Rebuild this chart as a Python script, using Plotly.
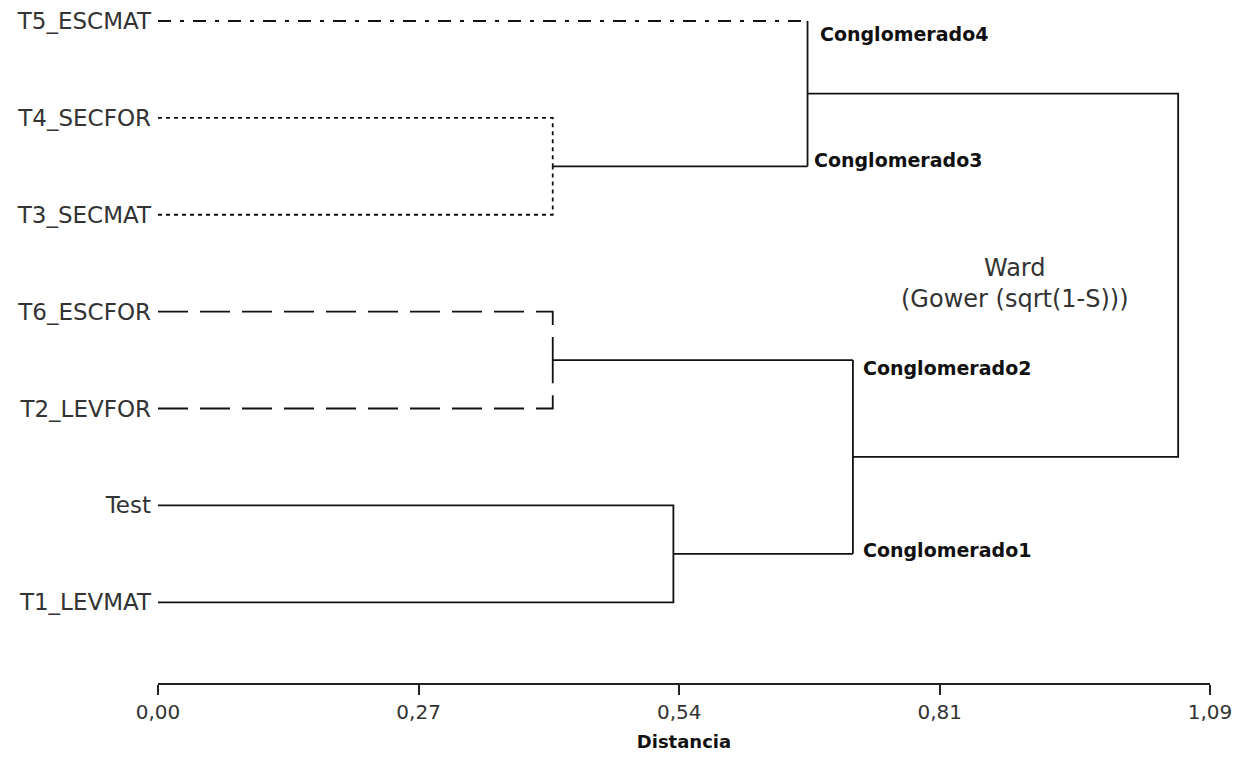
import plotly.graph_objects as go

# ---- data ----
leaves = ["T5_ESCMAT", "T4_SECFOR", "T3_SECMAT", "T6_ESCFOR", "T2_LEVFOR", "Test", "T1_LEVMAT"]
leaf_y = [7, 6, 5, 4, 3, 2, 1]
# merge heights (distance)
h_t4t3 = 0.409
h_t6t2 = 0.409
h_test_t1 = 0.534
h_c34 = 0.673
h_c12 = 0.720
h_root = 1.057
tick_vals = [0.0, 0.27, 0.54, 0.81, 1.09]
tick_text = ["0,00", "0,27", "0,54", "0,81", "1,09"]
cluster_names = ["Conglomerado4", "Conglomerado3", "Conglomerado2", "Conglomerado1"]

FONT = "DejaVu Sans"
LW = 1.8
fig = go.Figure()

def seg(xs, ys, dash="solid"):
    fig.add_trace(go.Scatter(x=xs, y=ys, mode="lines",
                             line=dict(color="#111111", width=LW, dash=dash),
                             hoverinfo="skip", showlegend=False))

y = dict(zip(leaves, leaf_y))
dot = "4px,4px"
ld = "30px,12px"
dd = "13px,9px,4px,9px"

# cluster T4/T3 (dotted), each leaf path: leaf -> height -> midpoint
m43 = (y["T4_SECFOR"] + y["T3_SECMAT"]) / 2
seg([0, h_t4t3, h_t4t3], [y["T4_SECFOR"], y["T4_SECFOR"], m43], dot)
seg([0, h_t4t3, h_t4t3], [y["T3_SECMAT"], y["T3_SECMAT"], m43], dot)
# T5 leaf (dash-dot)
seg([0, h_c34], [y["T5_ESCMAT"], y["T5_ESCMAT"]], dd)
# cluster T6/T2 (long dash)
m62 = (y["T6_ESCFOR"] + y["T2_LEVFOR"]) / 2
seg([0, h_t6t2, h_t6t2], [y["T6_ESCFOR"], y["T6_ESCFOR"], m62], ld)
seg([0, h_t6t2, h_t6t2], [y["T2_LEVFOR"], y["T2_LEVFOR"], m62], ld)
# cluster Test/T1 (solid)
seg([0, h_test_t1, h_test_t1, 0], [y["Test"], y["Test"], y["T1_LEVMAT"], y["T1_LEVMAT"]])
mt1 = (y["Test"] + y["T1_LEVMAT"]) / 2
# C3/C4 merge
seg([h_t4t3, h_c34], [m43, m43])
seg([h_c34, h_c34], [y["T5_ESCMAT"], m43])
m34 = (y["T5_ESCMAT"] + m43) / 2
# C1/C2 merge
seg([h_t6t2, h_c12], [m62, m62])
seg([h_test_t1, h_c12], [mt1, mt1])
seg([h_c12, h_c12], [m62, mt1])
m12 = (m62 + mt1) / 2
# root
seg([h_c34, h_root, h_root, h_c12], [m34, m34, m12, m12])

# cluster labels
lab_pos = [(h_c34, y["T5_ESCMAT"] - 0.13, 10), (h_c34, m43 + 0.07, 4),
           (h_c12, m62 - 0.08, 8), (h_c12, mt1 + 0.04, 8)]
for name, (lx, ly, xs) in zip(cluster_names, lab_pos):
    fig.add_annotation(x=lx, y=ly, text="<b>" + name + "</b>", showarrow=False,
                       xanchor="left", yanchor="middle", xshift=xs,
                       font=dict(family=FONT, size=19, color="#111111"))

fig.add_annotation(x=0.888, y=4.29, text="Ward<br>(Gower (sqrt(1-S)))", showarrow=False,
                   xanchor="center", yanchor="middle",
                   font=dict(family=FONT, size=24, color="#333333"))

fig.update_layout(
    width=1237, height=762,
    margin=dict(l=150, r=35, t=0, b=87),
    paper_bgcolor="white", plot_bgcolor="white",
    font=dict(family=FONT, color="#333333"),
    xaxis=dict(range=[0, 1.09], tickvals=tick_vals, ticktext=tick_text,
               showgrid=False, zeroline=False, showline=True, linecolor="#222222",
               linewidth=LW, ticks="outside", ticklen=10, tickwidth=LW, tickcolor="#222222",
               tickfont=dict(family=FONT, size=20, color="#333333"),
               title=dict(text="<b>Distancia</b>", standoff=12,
                          font=dict(family=FONT, size=18, color="#111111"))),
    yaxis=dict(range=[0.167, 7.103], tickvals=leaf_y, ticktext=leaves,
               showgrid=False, zeroline=False, showline=False, ticks="",
               ticklabelstandoff=6, ticklabeloverflow="allow",
               tickfont=dict(family=FONT, size=23, color="#333333")),
)

fig.write_html("out.html")
